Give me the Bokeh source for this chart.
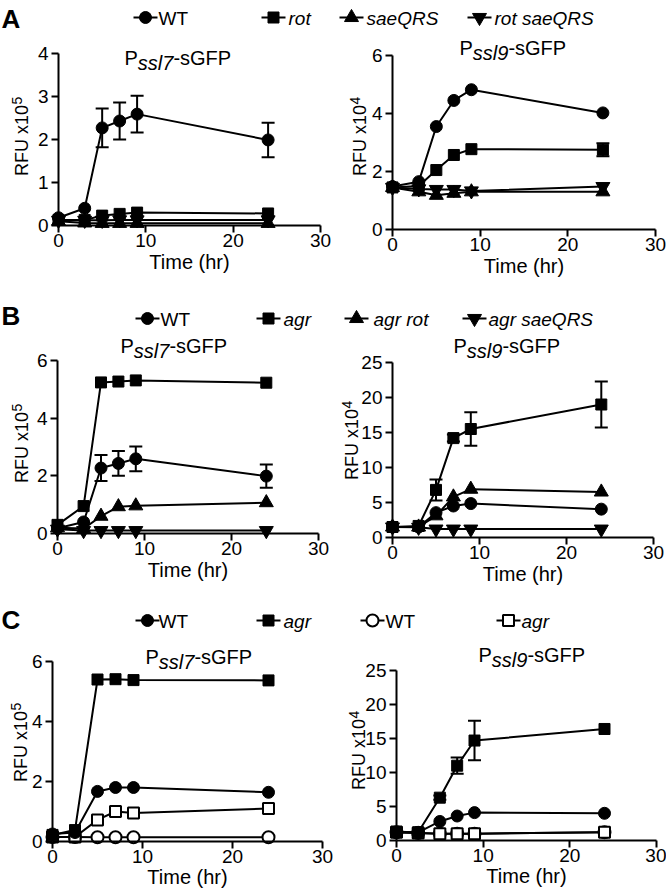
from bokeh.plotting import figure
from bokeh.layouts import column, row
from bokeh.models import Range1d, Label, Whisker, ColumnDataSource, TeeHead, FixedTicker
from bokeh.embed import file_html
from bokeh.resources import INLINE

FONT = "Liberation Sans"

# ---------------- data ----------------
time_ab = [0, 3, 5, 7, 9, 24]
time_c = [0, 2.5, 5, 7, 9, 24]
x_ticks = [0, 10, 20, 30]

# Panel A, Pssl7 (RFU x10^5)
a7_wt = [0.18, 0.40, 2.27, 2.43, 2.59, 1.99]
a7_wt_err = [0, 0, 0.45, 0.43, 0.43, 0.40]
a7_rot = [0.13, 0.13, 0.23, 0.27, 0.30, 0.28]
a7_sae = [0.10, 0.06, 0.05, 0.05, 0.05, 0.05]
a7_rotsae = [0.12, 0.12, 0.12, 0.13, 0.13, 0.13]
a7_yticks = [0, 1, 2, 3, 4]

# Panel A, Pssl9 (RFU x10^4)
a9_wt = [1.48, 1.65, 3.55, 4.45, 4.82, 4.02]
a9_rot = [1.45, 1.50, 2.05, 2.57, 2.77, 2.75]
a9_rot_err = [0, 0, 0, 0, 0, 0.22]
a9_sae = [1.45, 1.30, 1.18, 1.25, 1.30, 1.30]
a9_rotsae = [1.45, 1.40, 1.38, 1.38, 1.33, 1.48]
a9_yticks = [0, 2, 4, 6]

# Panel B, Pssl7 (RFU x10^5)
b7_wt = [0.18, 0.40, 2.27, 2.43, 2.59, 1.99]
b7_wt_err = [0, 0, 0.45, 0.43, 0.43, 0.40]
b7_agr = [0.30, 0.95, 5.24, 5.27, 5.31, 5.23]
b7_agrrot = [0.20, 0.17, 0.60, 0.93, 0.96, 1.07]
b7_agrsae = [0.15, 0.10, 0.10, 0.10, 0.10, 0.10]
b7_yticks = [0, 2, 4, 6]

# Panel B, Pssl9 (RFU x10^4)
b9_wt = [1.5, 1.5, 3.55, 4.5, 4.85, 4.05]
b9_agr = [1.5, 1.65, 6.8, 14.2, 15.5, 19.0]
b9_agr_err = [0, 0, 1.5, 0.5, 2.4, 3.3]
b9_agrrot = [1.5, 1.5, 3.1, 5.8, 6.9, 6.5]
b9_agrsae = [1.5, 1.45, 1.2, 1.2, 1.2, 1.2]
b9_yticks = [0, 5, 10, 15, 20, 25]

# Panel C, Pssl7 (RFU x10^5)
c7_wt = [0.25, 0.30, 1.67, 1.80, 1.80, 1.64]
c7_agr = [0.22, 0.38, 5.40, 5.41, 5.38, 5.37]
c7_wt_open = [0.15, 0.15, 0.14, 0.14, 0.14, 0.14]
c7_agr_open = [0.15, 0.15, 0.72, 1.00, 0.95, 1.10]
c7_yticks = [0, 2, 4, 6]

# Panel C, Pssl9 (RFU x10^4)
c9_wt = [1.2, 1.2, 2.8, 3.6, 4.1, 4.0]
c9_agr = [1.3, 1.2, 6.3, 11.0, 14.7, 16.4]
c9_agr_err = [0, 0, 0.3, 1.2, 2.9, 0]
c9_wt_open = [1.2, 1.1, 1.0, 1.0, 1.0, 1.2]
c9_agr_open = [1.2, 1.1, 1.0, 1.0, 1.0, 1.2]
c9_yticks = [0, 5, 10, 15, 20, 25]

legend_a = ["WT", "rot", "saeQRS", "rot saeQRS"]
legend_b = ["WT", "agr", "agr rot", "agr saeQRS"]
legend_c = ["WT", "agr", "WT", "agr"]

# ---------------- styles ----------------
MSIZE = {"circle": 12, "square": 11, "triangle": 14, "inverted_triangle": 14}
W_ADV = {"P": 0.667, "s": 0.5, "l": 0.222, "7": 0.556, "9": 0.556, "-": 0.333,
         "G": 0.778, "F": 0.611, "R": 0.722, "U": 0.722, " ": 0.278, "x": 0.5,
         "1": 0.556, "0": 0.556}
MID = 0.3465  # distance baseline -> middle of the em box, in em
TICK_PX = 19
TITLE_PX = 20


def tw(s, size):
    return sum(W_ADV.get(c, 0.556) for c in s) * size


def draw_series(p, t, vals, err, marker, fill):
    p.line(t, vals, line_width=2, line_color="black")
    if err is not None:
        idx = [i for i, e in enumerate(err) if e > 0]
        src = ColumnDataSource(dict(
            t=[t[i] for i in idx],
            hi=[vals[i] + err[i] for i in idx],
            lo=[vals[i] - err[i] for i in idx]))
        p.add_layout(Whisker(source=src, base="t", upper="hi", lower="lo",
                             line_width=2, line_color="black",
                             upper_head=TeeHead(size=13, line_width=2, line_color="black"),
                             lower_head=TeeHead(size=13, line_width=2, line_color="black")))
    p.scatter(t, vals, marker=marker, size=MSIZE[marker], fill_color=fill,
              line_color="black", line_width=2 if fill == "white" else 1)


def panel(fig_left, fig_top, W, H, x0, x30, y0, ytop, yval, yticks, times, series,
          gene, title_x, title_base, ylab_x, ylab_cy, exp, label_standoff=1):
    # the frame covers the whole canvas; axes sit at x=0 / y=0
    sx = (x30 - x0) / 30.0
    sy = (y0 - ytop) / float(yval)
    xr = Range1d((fig_left - x0) / sx, (fig_left + W - x0) / sx)
    yr = Range1d((y0 - (fig_top + H)) / sy, (y0 - fig_top) / sy)
    p = figure(width=W, height=H, x_range=xr, y_range=yr, title=None,
               toolbar_location=None, output_backend="svg", min_border=0)
    p.outline_line_color = None
    p.grid.visible = False
    p.background_fill_color = "white"
    p.border_fill_color = "white"

    for ax in (p.xaxis[0], p.yaxis[0]):
        ax.fixed_location = 0
        ax.axis_line_width = 2
        ax.axis_line_color = "black"
        ax.major_tick_line_width = 2
        ax.major_tick_line_color = "black"
        ax.major_tick_out = 7
        ax.major_tick_in = 0
        ax.minor_tick_out = 0
        ax.minor_tick_in = 0
        ax.major_label_text_font = FONT
        ax.major_label_text_font_size = "%dpx" % TICK_PX
        ax.major_label_text_color = "black"
    p.xaxis.ticker = FixedTicker(ticks=x_ticks)
    p.yaxis.ticker = FixedTicker(ticks=yticks)
    p.xaxis.bounds = (0, 30)
    p.yaxis.bounds = (0, yval)
    p.xaxis.major_label_standoff = 1
    p.yaxis.major_label_standoff = 3
    p.xaxis.axis_label = "Time (hr)"
    p.xaxis.axis_label_text_font = FONT
    p.xaxis.axis_label_text_font_size = "20px"
    p.xaxis.axis_label_text_font_style = "normal"
    p.xaxis.axis_label_text_color = "black"
    p.xaxis.axis_label_standoff = label_standoff

    for vals, err, marker, fill in series:
        draw_series(p, times, vals, err, marker, fill)

    def dx(rx):
        return (rx - x0) / sx

    def dy(ry):
        return (y0 - ry) / sy

    # title  P_ssl7-sGFP  (positions given as baseline, drawn with middle anchor)
    w_p = tw("P", TITLE_PX)
    w_g = tw(gene, TITLE_PX)
    mid = MID * TITLE_PX
    fs = "%dpx" % TITLE_PX
    p.add_layout(Label(x=dx(title_x), y=dy(title_base - mid), text="P", text_font=FONT,
                       text_font_size=fs, text_baseline="middle", text_color="black"))
    p.add_layout(Label(x=dx(title_x + w_p), y=dy(title_base + 5 - mid), text=gene, text_font=FONT,
                       text_font_size=fs, text_font_style="italic",
                       text_baseline="middle", text_color="black"))
    p.add_layout(Label(x=dx(title_x + w_p + w_g), y=dy(title_base - mid), text="-sGFP",
                       text_font=FONT, text_font_size=fs, text_baseline="middle",
                       text_color="black"))

    # y-axis label  RFU x10^exp  (rotated; ylab_x is the baseline position)
    w_main = tw("RFU x10", 18)
    w_sup = tw(exp, 14)
    bottom = ylab_cy + (w_main + w_sup) / 2.0
    p.add_layout(Label(x=dx(ylab_x - MID * 18), y=dy(bottom), text="RFU x10", angle=1.5707963,
                       text_font=FONT, text_font_size="18px", text_align="left",
                       text_baseline="middle", text_color="black"))
    p.add_layout(Label(x=dx(ylab_x - 7 - MID * 14), y=dy(bottom - w_main - 0.5), text=exp,
                       angle=1.5707963, text_font=FONT, text_font_size="14px",
                       text_align="left", text_baseline="middle", text_color="black"))
    return p


def legend_fig(top, bottom, letter, letter_y, labels, markers, fills, italics, mx, tx, y):
    lf = figure(width=666, height=bottom - top, x_range=Range1d(0, 666),
                y_range=Range1d(bottom, top), title=None, toolbar_location=None,
                output_backend="svg", min_border=0, x_axis_type=None, y_axis_type=None)
    lf.outline_line_color = None
    lf.background_fill_color = "white"
    lf.border_fill_color = "white"
    lf.add_layout(Label(x=1, y=letter_y, text=letter, text_font=FONT, text_font_size="26px",
                        text_font_style="bold", text_baseline="middle", text_color="black"))
    for lab, m, f, it, x, t in zip(labels, markers, fills, italics, mx, tx):
        lf.segment(x0=[x - 12], y0=[y], x1=[x + 12], y1=[y], line_width=2, line_color="black")
        lf.scatter([x], [y], marker=m, size=MSIZE[m], fill_color=f, line_color="black",
                   line_width=2 if f == "white" else 1)
        lf.add_layout(Label(x=t, y=y + 1, text=lab, text_font=FONT, text_font_size="19px",
                            text_font_style="italic" if it else "normal",
                            text_baseline="middle", text_color="black"))
    return lf


# ---------------- layout (page pixel coordinates) ----------------
legA = legend_fig(0, 36, "A", 18, legend_a,
                  ["circle", "square", "triangle", "inverted_triangle"],
                  ["black"] * 4, [False, True, True, True],
                  [145, 273, 351, 479], [158, 288, 366, 494], 17)

pAL = panel(0, 36, 333, 262, 58, 320, 225, 53, 4, a7_yticks, time_ab,
            [(a7_wt, a7_wt_err, "circle", "black"), (a7_rot, None, "square", "black"),
             (a7_sae, None, "triangle", "black"), (a7_rotsae, None, "inverted_triangle", "black")],
            "ssl7", 124, 64, 28, 136, "5")
pAR = panel(333, 36, 333, 262, 392, 655, 229, 55, 6, a9_yticks, time_ab,
            [(a9_wt, None, "circle", "black"), (a9_rot, a9_rot_err, "square", "black"),
             (a9_sae, None, "triangle", "black"), (a9_rotsae, None, "inverted_triangle", "black")],
            "ssl9", 459, 54, 366, 136, "4")

legB = legend_fig(298, 334, "B", 315, legend_b,
                  ["circle", "square", "triangle", "inverted_triangle"],
                  ["black"] * 4, [False, True, True, True],
                  [147, 268, 356, 474], [160, 283, 373, 488], 318)

pBL = panel(0, 334, 333, 262, 57, 318, 533, 360, 6, b7_yticks, time_ab,
            [(b7_wt, b7_wt_err, "circle", "black"), (b7_agr, None, "square", "black"),
             (b7_agrrot, None, "triangle", "black"), (b7_agrsae, None, "inverted_triangle", "black")],
            "ssl7", 120, 352, 28, 443, "5")
pBR = panel(333, 334, 333, 262, 392, 653, 537, 362, 25, b9_yticks, time_ab,
            [(b9_wt, None, "circle", "black"), (b9_agr, b9_agr_err, "square", "black"),
             (b9_agrrot, None, "triangle", "black"), (b9_agrsae, None, "inverted_triangle", "black")],
            "ssl9", 453, 352, 358, 440, "4")

legC = legend_fig(596, 636, "C", 619, legend_c,
                  ["circle", "square", "circle", "square"],
                  ["black", "black", "white", "white"], [False, True, False, True],
                  [147, 268, 372, 508], [158, 283, 385, 521], 620)

pCL = panel(0, 636, 333, 256, 52, 322, 841, 661, 6, c7_yticks, time_c,
            [(c7_wt_open, None, "circle", "white"), (c7_agr_open, None, "square", "white"),
             (c7_wt, None, "circle", "black"), (c7_agr, None, "square", "black")],
            "ssl7", 145, 663, 27, 742, "5", label_standoff=0)
pCR = panel(333, 636, 333, 256, 396, 656, 840, 670, 25, c9_yticks, time_c,
            [(c9_wt_open, None, "circle", "white"), (c9_agr_open, None, "square", "white"),
             (c9_wt, None, "circle", "black"), (c9_agr, c9_agr_err, "square", "black")],
            "ssl9", 478, 661, 365, 750, "4", label_standoff=0)

layout = column(legA, row(pAL, pAR), legB, row(pBL, pBR), legC, row(pCL, pCR))

open("out.html", "w").write(file_html(layout, INLINE))
